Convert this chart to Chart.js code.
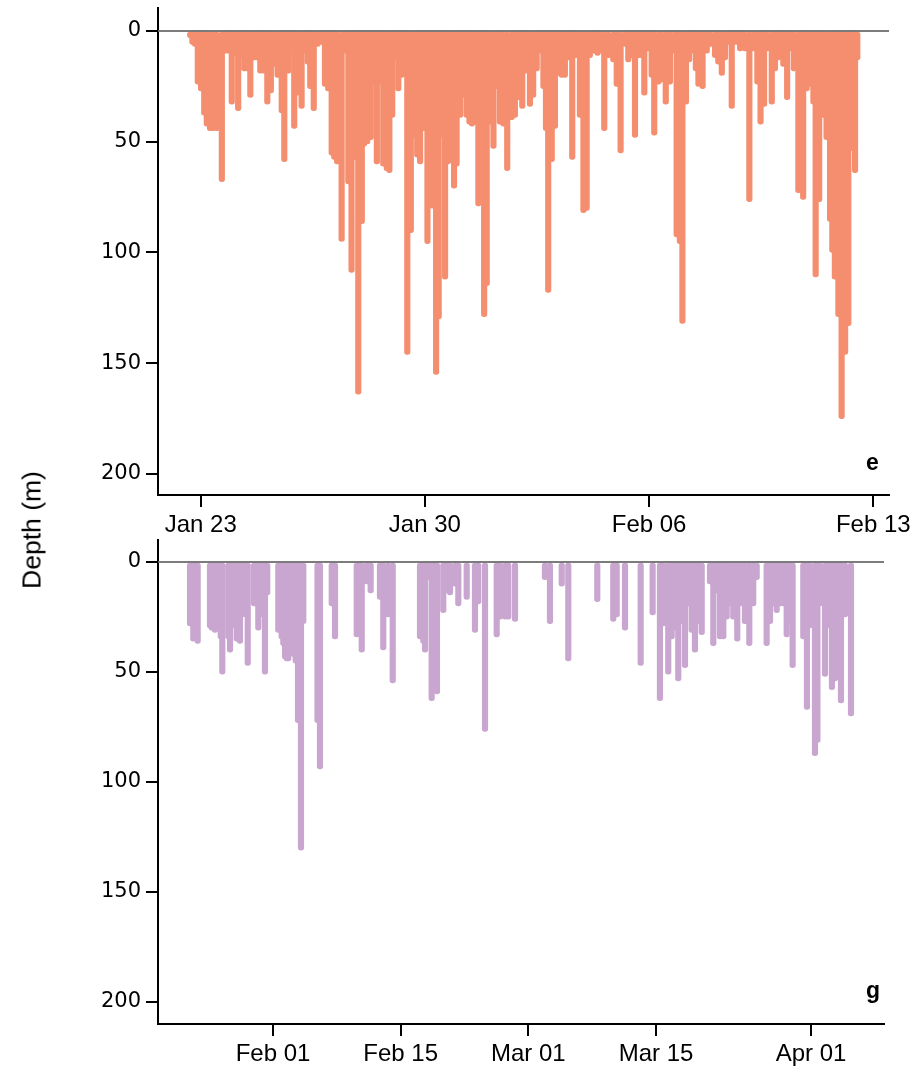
<!DOCTYPE html>
<html><head><meta charset="utf-8">
<script src="https://cdn.jsdelivr.net/npm/chart.js@4.4.1/dist/chart.umd.min.js"></script>
<style>
html,body{margin:0;padding:0;background:#fff;}
#wrap{position:relative;width:917px;height:1072px;overflow:hidden;background:#fff;}
canvas{position:absolute;left:0;}
#c1{top:0;}
#c2{top:530px;}
.lbl{position:absolute;font-family:"Liberation Sans",Arial,sans-serif;color:#000;white-space:nowrap;}
#ytitle{left:32px;top:530px;font-size:26px;transform:translate(-50%,-50%) rotate(-90deg) scaleX(1.02);}
.pl{font-weight:bold;font-size:23px;}
</style></head><body>
<div id="wrap">
<canvas id="c1" width="917" height="548"></canvas>
<canvas id="c2" width="917" height="542"></canvas>
<div class="lbl" id="ytitle">Depth (m)</div>
<div class="lbl pl" style="left:866px;top:449px;">e</div>
<div class="lbl pl" style="left:866px;top:977px;">g</div>
</div>
<script>
// ---- data (x = day of year, y = dive depth in m) ----
const topDays = [22.67,22.74,22.82,22.91,23.01,23.11,23.19,23.29,23.39,23.50,23.66,23.76,23.84,23.97,24.07,24.17,24.28,24.36,24.45,24.55,24.65,24.74,24.86,24.97,25.08,25.19,25.30,25.40,25.53,25.61,25.74,25.84,25.92,26.05,26.15,26.26,26.34,26.42,26.53,26.65,26.78,26.88,26.98,27.09,27.17,27.26,27.40,27.51,27.61,27.71,27.82,27.92,28.03,28.10,28.20,28.31,28.41,28.50,28.60,28.70,28.81,28.89,28.98,29.07,29.17,29.28,29.36,29.45,29.56,29.66,29.76,29.85,29.97,30.08,30.16,30.22,30.35,30.43,30.53,30.63,30.72,30.81,30.91,30.99,31.10,31.20,31.30,31.39,31.47,31.56,31.67,31.77,31.85,31.93,32.03,32.14,32.24,32.34,32.45,32.57,32.71,32.81,32.94,33.04,33.15,33.28,33.38,33.49,33.59,33.70,33.78,33.85,33.96,34.06,34.16,34.27,34.37,34.48,34.60,34.71,34.84,34.95,35.05,35.15,35.23,35.31,35.39,35.47,35.60,35.73,35.88,35.99,36.11,36.25,36.35,36.46,36.56,36.64,36.72,36.85,36.97,37.08,37.16,37.29,37.39,37.52,37.65,37.79,37.86,37.96,38.04,38.15,38.25,38.38,38.46,38.54,38.67,38.80,38.92,39.06,39.16,39.27,39.37,39.47,39.58,39.71,39.84,39.92,39.99,40.13,40.25,40.38,40.48,40.59,40.69,40.83,40.93,41.03,41.11,41.19,41.31,41.42,41.52,41.66,41.74,41.81,41.92,42.02,42.13,42.20,42.31,42.42,42.54,42.65,42.72,42.80,42.91,43.01,43.12,43.22,43.32,43.43,43.50];
const topDepths = [3,6,7,24,27,38,43,45,45,45,68,10,10,33,11,36,12,18,18,30,13,13,19,19,33,28,16,21,37,59,19,9,44,29,35,10,15,26,36,7,6,25,27,56,58,60,95,10,69,109,58,164,87,52,51,49,24,60,24,61,63,64,39,13,27,21,3,146,91,48,57,60,45,96,13,80,155,130,48,112,60,55,71,61,39,30,39,42,43,42,79,42,129,115,42,53,26,42,43,63,40,39,31,35,19,34,30,18,10,26,45,118,59,44,20,21,21,13,58,12,39,82,81,12,10,10,11,10,45,12,14,25,55,7,14,12,48,12,12,29,9,21,47,24,23,33,24,10,93,96,132,33,14,10,18,25,26,10,7,12,15,20,13,6,35,6,9,8,9,77,9,24,42,34,9,33,18,13,12,16,31,9,18,73,63,76,27,25,33,111,77,39,49,86,100,112,129,175,146,133,54,64,13];

const botDays = [22.90,23.09,23.26,23.56,23.74,25.09,25.28,25.64,25.83,26.00,26.27,26.44,27.10,27.29,27.58,27.65,27.83,28.02,28.38,28.68,28.93,29.23,29.92,30.14,30.39,30.57,30.76,31.12,31.37,32.58,32.69,32.95,33.13,33.32,33.50,33.68,33.86,34.05,34.30,34.49,34.74,35.07,35.32,36.88,37.15,38.44,38.80,41.18,41.46,41.73,42.27,42.71,43.73,44.09,44.60,45.13,48.12,48.48,48.67,49.03,49.40,49.76,49.98,50.67,51.05,51.41,51.96,52.32,53.24,54.15,54.51,55.25,56.53,56.89,57.44,57.80,58.54,61.82,62.37,63.66,64.38,67.56,69.31,69.69,70.60,72.32,73.63,74.43,74.80,75.34,75.72,76.08,76.44,76.81,77.18,77.54,77.91,78.27,78.63,79.01,79.92,80.28,80.65,81.01,81.38,81.75,82.11,82.47,82.91,83.28,83.75,84.23,84.66,85.04,86.13,86.50,86.86,87.23,87.59,87.95,88.33,88.69,88.98,90.15,90.55,90.88,91.43,91.70,91.98,92.53,92.89,93.29,93.62,93.99,94.28,94.72,95.38];
const botDepths = [29,20,36,30,37,30,31,32,25,24,35,51,35,41,24,22,30,36,37,25,20,47,20,20,31,25,13,51,15,32,28,35,38,44,45,45,40,42,43,46,73,131,28,73,94,20,35,34,20,41,10,14,17,40,25,55,35,37,41,8,63,20,60,23,14,15,11,20,17,32,19,77,34,26,26,26,27,8,28,11,45,18,27,25,31,47,24,63,29,51,35,31,54,28,48,20,32,41,28,33,10,38,14,35,35,26,20,26,36,20,28,38,20,8,38,28,20,23,20,20,34,28,48,35,67,30,88,82,20,52,30,58,54,30,64,25,70];

const topTickDays = [23,30,37,44];
const topTickLabels = ['Jan 23','Jan 30','Feb 06','Feb 13'];
const botTickDays = [32,46,60,74,91];
const botTickLabels = ['Feb 01','Feb 15','Mar 01','Mar 15','Apr 01'];
const depthTicks = [0,50,100,150,200];

function makeChart(id, days, depths, color, xmin, xmax, ymin, ymax, tickDays, tickLabels, padTop, padRight, areaBottom, H) {
  const bars = days.map((d, i) => ({x: d, y: [0, depths[i]]}));
  new Chart(document.getElementById(id), {
    type: 'bar',
    data: {
      datasets: [
        {type: 'line', data: [{x: xmin, y: 0}, {x: xmax, y: 0}], borderColor: 'rgba(110,110,110,0.9)', borderWidth: 2, pointRadius: 0, order: 0},
        {type: 'bar', data: bars, backgroundColor: color, borderWidth: 0, barThickness: 5.5, borderRadius: 2.75, borderSkipped: false, order: 1}
      ]
    },
    options: {
      responsive: false, animation: false, devicePixelRatio: 1,
      layout: {padding: {left: 0, right: padRight, top: padTop, bottom: 0}},
      plugins: {legend: {display: false}, tooltip: {enabled: false}},
      scales: {
        x: {
          type: 'linear', min: xmin, max: xmax, offset: false,
          grid: {display: true, drawOnChartArea: false, drawTicks: true, tickLength: 12, color: '#000', lineWidth: 2, offset: false},
          border: {display: true, color: '#000', width: 2},
          ticks: {autoSkip: false, maxRotation: 0, minRotation: 0, padding: 4, color: '#000',
            font: {family: 'Liberation Sans', size: 24},
            callback: (v) => { const i = tickDays.indexOf(v); return i >= 0 ? tickLabels[i] : ''; }},
          afterBuildTicks: (s) => { s.ticks = tickDays.map(v => ({value: v})); },
          afterFit: (s) => { s.height = H - areaBottom; s.paddingLeft = 0; s.paddingRight = 0; }
        },
        y: {
          type: 'linear', reverse: true, min: ymin, max: ymax,
          grid: {display: true, drawOnChartArea: false, drawTicks: true, tickLength: 12, color: '#000', lineWidth: 2},
          border: {display: true, color: '#000', width: 2},
          ticks: {padding: 5, color: '#000', font: {family: 'DejaVu Sans', size: 21}},
          afterBuildTicks: (s) => { s.ticks = depthTicks.map(v => ({value: v})); },
          afterFit: (s) => { s.width = 158; s.paddingTop = 0; s.paddingBottom = 0; }
        }
      }
    }
  });
}

makeChart('c1', topDays, topDepths, '#F58E6F', 21.667, 44.49, -10.4, 209.5, topTickDays, topTickLabels, 8, 28, 495, 548);
makeChart('c2', botDays, botDepths, '#C9A6CF', 19.39, 99.0, -10, 210, botTickDays, botTickLabels, 10, 33, 494, 542);
</script>
</body></html>
